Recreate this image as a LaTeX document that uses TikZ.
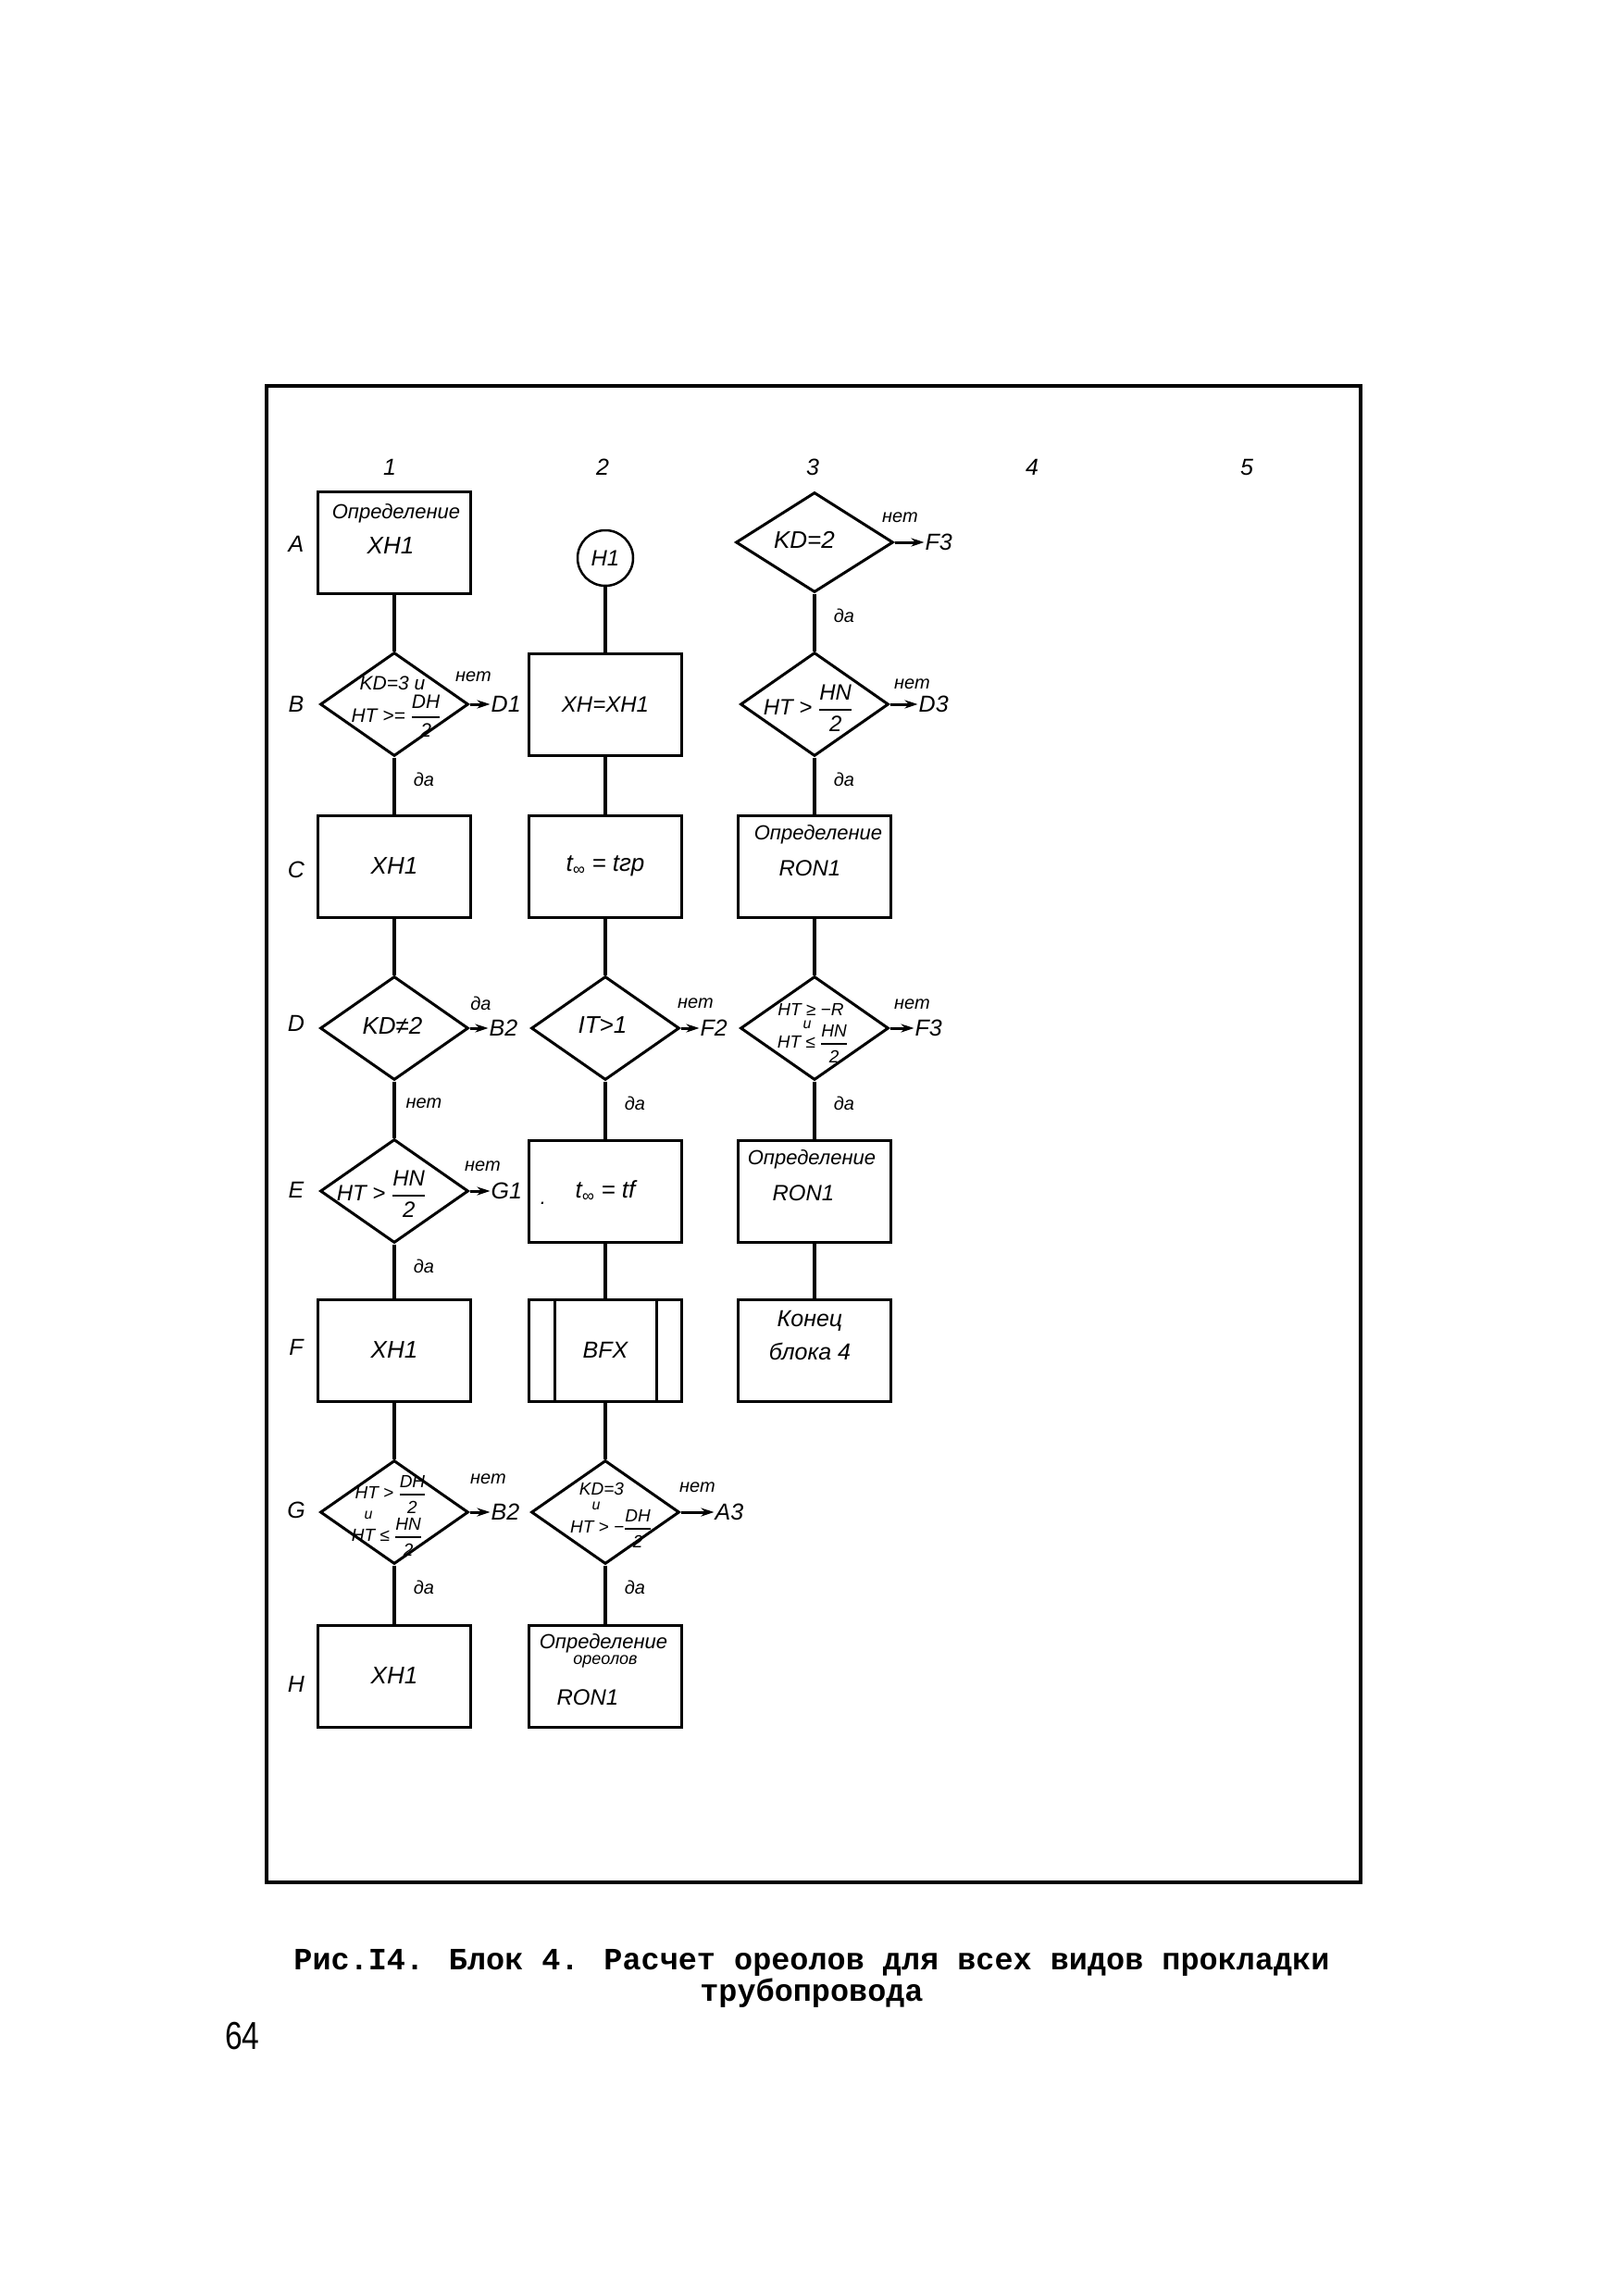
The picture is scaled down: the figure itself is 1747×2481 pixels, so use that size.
\documentclass[tikz,border=0pt]{standalone}
\usepackage{amsmath}
\usepackage{graphicx}
\usepackage{fontspec}
\setmainfont{Liberation Sans}
\newfontfamily\tw{Liberation Mono}
\usetikzlibrary{shapes.geometric,arrows.meta}
\newcommand{\fsz}[1]{\fontsize{#1}{#1}\selectfont}
\newcommand{\fr}[2]{$\genfrac{}{}{2pt}{0}{\text{#1}}{\text{#2}}$}
\tikzstyle{box}=[draw=black,line width=3pt,minimum width=165pt,
                 minimum height=110pt,inner sep=0pt,font=\itshape\fsz{26}]
\tikzstyle{dia}=[diamond,draw=black,line width=3pt,minimum width=160pt,
                 minimum height=112pt,inner sep=0pt]
\tikzstyle{link}=[line width=4pt]
\tikzstyle{exit}=[line width=3pt,-{Stealth[length=14pt,width=9pt]}]
\tikzstyle{tag}=[inner sep=1pt,font=\itshape\fsz{25}]
\tikzstyle{note}=[inner sep=0pt,font=\itshape\fsz{20}]
\tikzstyle{cond}=[inner sep=0pt,font=\itshape\fsz{19}]
\tikzstyle{condu}=[inner sep=0pt,font=\itshape\fsz{16}]
\tikzstyle{condbig}=[inner sep=0pt,font=\itshape\fsz{24}]
\tikzstyle{txt}=[inner sep=0pt,font=\itshape\fsz{22}]
\tikzstyle{head}=[inner sep=0pt,font=\itshape\fsz{25}]

\begin{document}
\begin{tikzpicture}[x=1pt,y=-1pt]
    \fill[white] (0,0) rectangle (1747,2481);
    \useasboundingbox (0,0) rectangle (1747,2481);
    \draw[line width=3.5pt] (288,417) rectangle (1470,2034);

    % headings
    \foreach \n/\x in {1/421,2/651,3/878,4/1115,5/1347}
      \node[head] (col\n) at (\x,505) {\n};
    \foreach \r/\y in {A/588,B/761,C/940,D/1106,E/1286,F/1456,G/1632,H/1820}
      \node[head] (row\r) at (320,\y) {\r};

    % column 1
    \node[box] (a1) at (426,586) {};
    \node[txt] (a1p) at (428,555) {Определение};
    \node[txt,font=\itshape\fsz{26}] (a1q) at (422,590) {XH1};
    \node[dia] (b1) at (426,761) {};
    \node[cond,font=\itshape\fsz{21}] (b1p) at (424,738) {KD=3 и};
    \node[cond,font=\itshape\fsz{21}] (b1q) at (428,774) {HT >= \fr{DH}{2}};
    \node[box] (c1) at (426,936) {XH1};
    \node[dia] (d1) at (426,1111) {};
    \node[condbig,font=\itshape\fsz{26}] (d1p) at (424,1108) {KD≠2};
    \node[dia] (e1) at (426,1287) {};
    \node[condbig] (e1p) at (412,1290) {HT > \fr{HN}{2}};
    \node[box] (f1) at (426,1459) {XH1};
    \node[dia] (g1) at (426,1634) {};
    \node[cond] (g1p) at (422,1615) {HT > \fr{DH}{2}};
    \node[condu] (g1q) at (398,1637) {и};
    \node[cond] (g1r) at (418,1661) {HT ≤ \fr{HN}{2}};
    \node[box] (h1) at (426,1811) {XH1};

    % column 2
    \node[circle,draw=black,line width=2.5pt,minimum size=60pt,inner sep=0pt,
          font=\itshape\fsz{24}] (entry) at (654,603) {H1};
    \node[box,font=\itshape\fsz{24}] (b2) at (654,761) {XH=XH1};
    \node[box] (c2) at (654,936) {t\textsubscript{∞} = tгр};
    \node[dia] (d2) at (654,1111) {};
    \node[condbig,font=\itshape\fsz{26}] (d2p) at (651,1108) {IT>1};
    \node[box] (e2) at (654,1287) {t\textsubscript{∞} = tf};
    \node[txt] (e2dot) at (587,1300) {.};
    \node[box,font=\itshape\fsz{25}] (f2) at (654,1459) {BFX};
    \draw[line width=3pt] ([xshift=29pt]f2.north west) -- ([xshift=29pt]f2.south west)
                          ([xshift=-29pt]f2.north east) -- ([xshift=-29pt]f2.south east);
    \node[dia] (g2) at (654,1634) {};
    \node[cond] (g2p) at (650,1609) {KD=3};
    \node[condu] (g2q) at (644,1627) {и};
    \node[cond] (g2r) at (660,1652) {HT > −\fr{DH}{2}};
    \node[box] (h2) at (654,1811) {};
    \node[txt] (h2p) at (652,1776) {Определение};
    \node[txt,font=\itshape\fsz{18}] (h2q) at (654,1796) {ореолов};
    \node[txt,font=\itshape\fsz{24}] (h2r) at (635,1834) {RON1};

    % column 3
    \node[dia,minimum width=170pt,minimum height=108pt] (a3) at (880,586) {};
    \node[condbig,font=\itshape\fsz{26}] (a3p) at (869,583) {KD=2};
    \node[dia] (b3) at (880,761) {};
    \node[condbig] (b3p) at (873,765) {HT > \fr{HN}{2}};
    \node[box] (c3) at (880,936) {};
    \node[txt] (c3p) at (884,902) {Определение};
    \node[txt,font=\itshape\fsz{24}] (c3q) at (875,938) {RON1};
    \node[dia] (d3) at (880,1111) {};
    \node[cond] (d3p) at (876,1091) {HT ≥ −R};
    \node[condu] (d3q) at (872,1107) {и};
    \node[cond] (d3r) at (878,1128) {HT ≤ \fr{HN}{2}};
    \node[box] (e3) at (880,1287) {};
    \node[txt] (e3p) at (877,1253) {Определение};
    \node[txt,font=\itshape\fsz{24}] (e3q) at (868,1289) {RON1};
    \node[box] (f3) at (880,1459) {};
    \node[txt,font=\itshape\fsz{25}] (f3p) at (875,1427) {Конец};
    \node[txt,font=\itshape\fsz{25}] (f3q) at (875,1460) {блока 4};

    % flow lines
    \draw[link] (a1) -- (b1) -- (c1) -- (d1) -- (e1) -- (f1) -- (g1) -- (h1);
    \draw[link] (entry) -- (b2) -- (c2) -- (d2) -- (e2) -- (f2) -- (g2) -- (h2);
    \draw[link] (a3) -- (b3) -- (c3) -- (d3) -- (e3) -- (f3);

    % exits to the right
    \foreach \d/\ans/\dest/\gap/\dx/\dy in {b1/нет/D1/22/4/30, d1/да/B2/20/12/27,
        e1/нет/G1/22/14/27, g1/нет/B2/22/20/36, d2/нет/F2/20/16/27,
        g2/нет/A3/36/18/27, a3/нет/F3/32/6/27, b3/нет/D3/30/24/22,
        d3/нет/F3/26/24/26}
    {
      \node[tag,anchor=west] (\d-to) at ([xshift=\gap pt]\d.east) {\dest};
      \draw[exit] (\d.east) -- (\d-to.west);
      \node[note] (\d-ans) at ([xshift=\dx pt,yshift=\dy pt]\d.east) {\ans};
    }
    % answers below the decisions
    \foreach \d/\ans in {b1/да,d1/нет,e1/да,g1/да,d2/да,g2/да,a3/да,b3/да,d3/да}
      \node[note] (\d-down) at ([xshift=32pt,yshift=-24pt]\d.south) {\ans};

    % caption
    \node[font=\tw\bfseries\fsz{33.5},align=center,inner sep=0pt] (caption) at (877,2138)
      {Рис.I4. Блок 4. Расчет ореолов для всех видов прокладки\\[1pt]трубопровода};
    \node[font=\fsz{42},inner sep=0pt] (page) at (262,2200) {\scalebox{0.8}[1]{64}};
\end{tikzpicture}
\end{document}
